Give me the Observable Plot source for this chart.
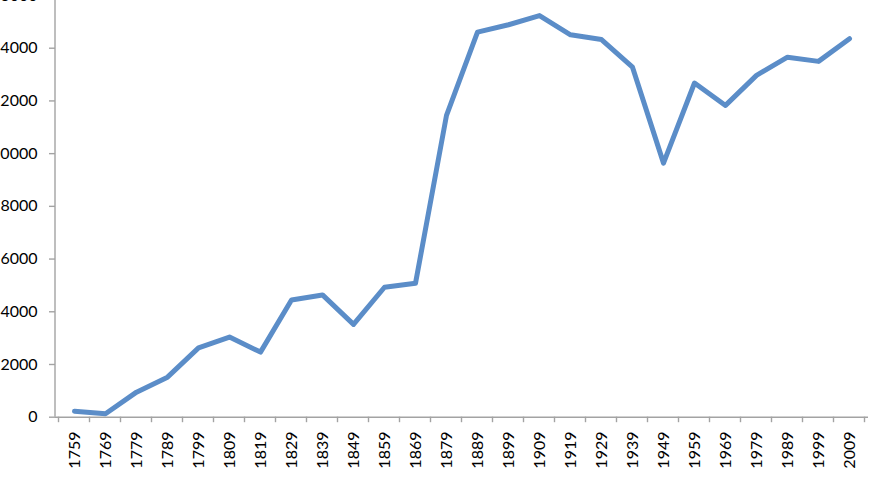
<!DOCTYPE html>
<html>
<head>
<meta charset="utf-8">
<script src="https://cdn.jsdelivr.net/npm/d3@7"></script>
<script src="https://cdn.jsdelivr.net/npm/@observablehq/plot@0.6"></script>
<style>
  html, body { margin: 0; padding: 0; background: #fff; }
  #chart { width: 872px; height: 482px; overflow: hidden; }
</style>
</head>
<body>
<div id="chart"></div>
<script>
const years = ["1759","1769","1779","1789","1799","1809","1819","1829","1839","1849","1859","1869","1879","1889","1899","1909","1919","1929","1939","1949","1959","1969","1979","1989","1999","2009"];
const values = [230, 130, 950, 1520, 2630, 3040, 2470, 4450, 4640, 3520, 4930, 5080, 11450, 14610, 14890, 15240, 14510, 14330, 13280, 9640, 12680, 11830, 12970, 13660, 13500, 14360];
const yTicks = [0, 2000, 4000, 6000, 8000, 10000, 12000, 14000, 16000];

const data = years.map((year, i) => ({year, value: values[i]}));
const axisColor = "#a3a3a3";

function axisExtras(...args) {
  const scales = args.find(a => a && typeof a.x === "function" && typeof a.y === "function");
  const dims = args.find(a => a && typeof a.width === "number" && typeof a.marginLeft === "number");
  const x = scales.x, y = scales.y;
  const step = x(years[1]) - x(years[0]);
  const y0 = y(0);
  const g = d3.create("svg:g");
  g.append("line")
    .attr("x1", dims.marginLeft).attr("x2", dims.marginLeft)
    .attr("y1", y(yTicks[yTicks.length - 1])).attr("y2", y0)
    .attr("stroke", axisColor).attr("stroke-width", 1.4);
  const bounds = years.map(yr => x(yr) - step / 2).concat([x(years[years.length - 1]) + step / 2]);
  g.selectAll("line.b").data(bounds).join("line")
    .attr("class", "b")
    .attr("x1", d => d).attr("x2", d => d)
    .attr("y1", y0).attr("y2", y0 + 5.5)
    .attr("stroke", axisColor).attr("stroke-width", 1.4);
  return g.node();
}

const chart = Plot.plot({
  width: 872,
  height: 482,
  marginLeft: 55,
  marginRight: 4,
  marginTop: 0,
  marginBottom: 65,
  style: {fontFamily: "Lato", fontSize: "16px", color: "#000", background: "#fff", overflow: "visible"},
  x: {type: "point", domain: years, padding: 0.5, align: 0.5, label: null},
  y: {domain: [0, 16000], range: [416.7, -5], label: null},
  marks: [
    Plot.ruleY([0], {stroke: axisColor, strokeWidth: 1.4}),
    Plot.axisY({ticks: yTicks, tickSize: 6, tickPadding: 12, stroke: axisColor, strokeWidth: 1.4, tickFormat: d => String(d), label: null, fontSize: 16}),
    Plot.axisX({tickSize: 0, tickPadding: 14, tickRotate: -90, label: null, fontSize: 16}),
    axisExtras,
    Plot.line(data, {x: "year", y: "value", stroke: "#5b8dc8", strokeWidth: 5, strokeLinejoin: "round", strokeLinecap: "round"})
  ]
});
document.getElementById("chart").appendChild(chart);
</script>
</body>
</html>
